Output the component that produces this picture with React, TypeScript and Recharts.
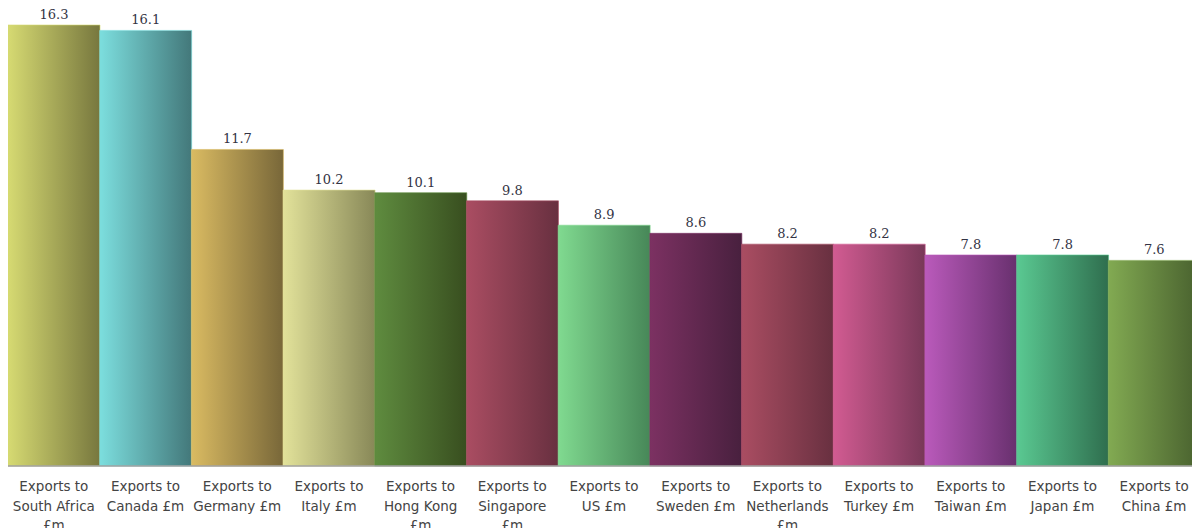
import React from "react";
import { BarChart, Bar, XAxis, YAxis, Cell, LabelList } from "recharts";

const categories = [
  "Exports to South Africa £m",
  "Exports to Canada £m",
  "Exports to Germany £m",
  "Exports to Italy £m",
  "Exports to Hong Kong £m",
  "Exports to Singapore £m",
  "Exports to US £m",
  "Exports to Sweden £m",
  "Exports to Netherlands £m",
  "Exports to Turkey £m",
  "Exports to Taiwan £m",
  "Exports to Japan £m",
  "Exports to China £m",
];

const values = [16.3, 16.1, 11.7, 10.2, 10.1, 9.8, 8.9, 8.6, 8.2, 8.2, 7.8, 7.8, 7.6];

const lightColors = [
  "#d6da72", "#7cdede", "#dabb62", "#e2e29a", "#5f8c3f", "#aa4d62", "#80da90",
  "#7c3162", "#aa4d62", "#d25b92", "#ba5abb", "#5ac992", "#82aa52",
];
const darkColors = [
  "#77773e", "#43787a", "#786739", "#888858", "#384e1f", "#683040", "#478758",
  "#48203e", "#683040", "#783858", "#68306e", "#2f6e4e", "#48602e",
];

const data = categories.map((name, i) => ({ name, value: values[i] }));

function wrapLabel(label: string): string[] {
  const prefix = "Exports to ";
  const rest = label.startsWith(prefix) ? label.slice(prefix.length) : label;
  const lines = ["Exports to"];
  if (rest.length > 11 && rest.endsWith(" £m")) {
    lines.push(rest.slice(0, -3));
    lines.push("£m");
  } else {
    lines.push(rest);
  }
  return lines;
}

const Tick = (props: any) => {
  const { x, y, payload } = props;
  const lines = wrapLabel(String(payload.value));
  return (
    <text
      x={x}
      y={y + 17}
      textAnchor="middle"
      style={{ fontFamily: "'DejaVu Sans', sans-serif", fontSize: 13.5, fill: "#444" }}
    >
      {lines.map((l, i) => (
        <tspan key={i} x={x} dy={i === 0 ? 0 : 19.5}>
          {l}
        </tspan>
      ))}
    </text>
  );
};

export default function App() {
  return (
    <BarChart
      width={1192}
      height={520}
      data={data}
      margin={{ top: 17, right: 0, bottom: 0, left: 0 }}
      barCategoryGap={0}
    >
      <defs>
        {lightColors.map((c, i) => (
          <linearGradient key={i} id={`g${i}`} x1="0" y1="0" x2="1" y2="0">
            <stop offset="0%" stopColor={c} />
            <stop offset="100%" stopColor={darkColors[i]} />
          </linearGradient>
        ))}
      </defs>
      <YAxis hide domain={[0, 16.3]} />
      <XAxis
        dataKey="name"
        height={62}
        interval={0}
        tickLine={false}
        axisLine={{ stroke: "#a0a0a0", strokeWidth: 1.5 }}
        tick={<Tick />}
      />
      <Bar dataKey="value" isAnimationActive={false}>
        {data.map((_, i) => (
          <Cell key={i} fill={`url(#g${i})`} stroke={lightColors[i]} strokeOpacity={0.6} strokeWidth={1} />
        ))}
        <LabelList
          dataKey="value"
          position="top"
          offset={6}
          style={{ fontFamily: "'DejaVu Serif', serif", fontSize: 13, fill: "#333344" }}
        />
      </Bar>
    </BarChart>
  );
}
